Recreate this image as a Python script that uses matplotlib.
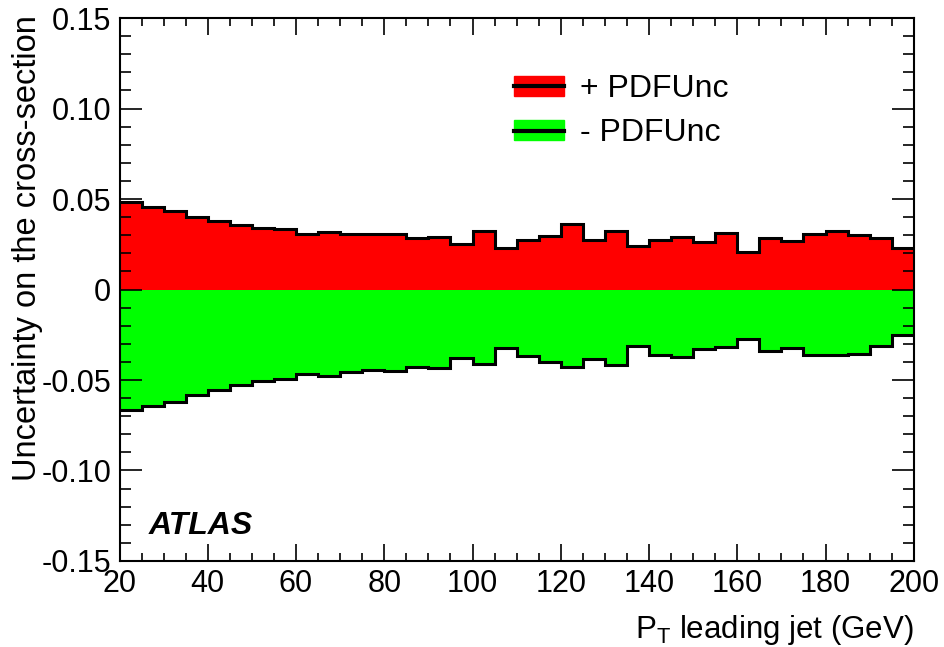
import numpy as np
import matplotlib.pyplot as plt
from matplotlib.patches import Patch
from matplotlib.lines import Line2D
from matplotlib.ticker import MultipleLocator

plt.rcParams['font.family'] = ['Liberation Sans', 'DejaVu Sans']
plt.rcParams['mathtext.fontset'] = 'custom'
plt.rcParams['mathtext.rm'] = 'Liberation Sans'

# bin edges of the leading jet pT histogram (GeV)
edges = np.arange(20, 205, 5)

# +PDF uncertainty per bin
pdf_up = [0.0486, 0.0455, 0.0433, 0.0400, 0.0378, 0.0354, 0.0341, 0.0333, 0.0308,
          0.0317, 0.0306, 0.0308, 0.0308, 0.0284, 0.0293, 0.0254, 0.0322, 0.0228,
          0.0271, 0.0295, 0.0363, 0.0271, 0.0324, 0.0238, 0.0271, 0.0291, 0.0265,
          0.0313, 0.0206, 0.0287, 0.0267, 0.0306, 0.0326, 0.0300, 0.0284, 0.0228]

# -PDF uncertainty per bin
pdf_down = [-0.0667, -0.0645, -0.0621, -0.0584, -0.0556, -0.0530, -0.0505, -0.0495, -0.0468,
            -0.0479, -0.0453, -0.0444, -0.0449, -0.0427, -0.0435, -0.0376, -0.0409, -0.0324,
            -0.0368, -0.0401, -0.0427, -0.0385, -0.0418, -0.0311, -0.0363, -0.0374, -0.0328,
            -0.0315, -0.0273, -0.0337, -0.0322, -0.0363, -0.0363, -0.0357, -0.0313, -0.0252]

labels = ['+ PDFUnc', '- PDFUnc']
colors = ['#ff0000', '#00ff00']

fig = plt.figure(figsize=(9.44, 6.47), dpi=100)
ax = fig.add_axes([0.1266, 0.133, 0.8414, 0.839])

ax.stairs(pdf_up, edges, baseline=0, fill=True, color=colors[0], lw=0)
ax.stairs(pdf_down, edges, baseline=0, fill=True, color=colors[1], lw=0)
ax.stairs(pdf_up, edges, baseline=None, color='black', lw=2.2)
ax.stairs(pdf_down, edges, baseline=None, color='black', lw=2.2)

ax.set_xlim(20, 200)
ax.set_ylim(-0.15, 0.15)

ax.xaxis.set_major_locator(MultipleLocator(20))
ax.xaxis.set_minor_locator(MultipleLocator(5))
ax.yaxis.set_major_locator(MultipleLocator(0.05))
ax.yaxis.set_minor_locator(MultipleLocator(0.01))
ax.set_yticks([-0.15, -0.10, -0.05, 0, 0.05, 0.10, 0.15])
ax.set_yticklabels(['-0.15', '-0.10', '-0.05', '0', '0.05', '0.10', '0.15'])

ax.tick_params(axis='both', which='both', direction='in', top=True, right=True,
               labelsize=22, width=1.2)
ax.tick_params(axis='x', which='major', length=12, pad=6)
ax.tick_params(axis='x', which='minor', length=6)
ax.tick_params(axis='y', which='major', length=15.6, pad=6)
ax.tick_params(axis='y', which='minor', length=8)
for s in ax.spines.values():
    s.set_linewidth(1.5)

ax.set_ylabel('Uncertainty on the cross-section', fontsize=23.5, loc='top')
ax.yaxis.set_label_coords(-0.096, 1.005)
ax.set_xlabel(r'P$_\mathregular{T}$ leading jet (GeV)', fontsize=22.5, loc='right')
ax.xaxis.set_label_coords(1.0, -0.095)

ax.text(0.037, 0.065, 'ATLAS', transform=ax.transAxes, fontsize=23,
        fontweight='bold', fontstyle='italic', va='center', ha='left')

handles = [(Patch(color=c), Line2D([], [], color='black', lw=3)) for c in colors]
ax.legend(handles, labels, loc='upper left', bbox_to_anchor=(0.497, 0.897),
          frameon=False, fontsize=23, handlelength=1.55, handleheight=0.6,
          handletextpad=0.5, labelspacing=0.45, borderpad=0, borderaxespad=0)

fig.savefig('out.png', dpi=100)
